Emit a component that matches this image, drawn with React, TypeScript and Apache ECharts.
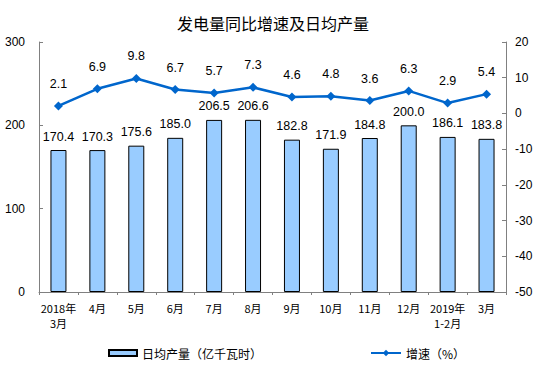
import React, { useEffect, useRef } from "react";
import * as echarts from "echarts";

const categories = ["2018年\n3月", "4月", "5月", "6月", "7月", "8月", "9月", "10月", "11月", "12月", "2019年\n1-2月", "3月"];
const dailyOutput = [170.4, 170.3, 175.6, 185.0, 206.5, 206.6, 182.8, 171.9, 184.8, 200.0, 186.1, 183.8];
const growth = [2.1, 6.9, 9.8, 6.7, 5.7, 7.3, 4.6, 4.8, 3.6, 6.3, 2.9, 5.4];
const titleText = "发电量同比增速及日均产量";
const barName = "日均产量（亿千瓦时）";
const lineName = "增速（%）";

export default function App() {
  const ref = useRef<HTMLDivElement>(null);
  useEffect(() => {
    if (!ref.current) return;
    const chart = echarts.init(ref.current, null, { renderer: "svg" });
    const axisText = { color: "#000", fontSize: 12, fontFamily: "Liberation Sans, Arial, sans-serif" };
    chart.setOption({
      animation: false,
      backgroundColor: "#fff",
      title: {
        text: titleText,
        left: 268,
        textAlign: "center",
        top: 10,
        textStyle: { fontSize: 16, fontWeight: "normal", color: "#000", fontFamily: "Noto Sans CJK SC, sans-serif" },
      },
      grid: { left: 39, right: 53, top: 42, bottom: 93 },
      legend: [
        {
          data: [{ name: barName, icon: "rect" }],
          left: 103,
          top: 342,
          itemWidth: 28,
          itemHeight: 6,
          itemGap: 4,
          textStyle: { fontSize: 12, color: "#000", fontFamily: "Noto Sans CJK SC, sans-serif" },
        },
        {
          data: [{ name: lineName }],
          left: 365,
          top: 342,
          itemWidth: 30,
          itemHeight: 8,
          textStyle: { fontSize: 12, color: "#000", fontFamily: "Noto Sans CJK SC, sans-serif" },
        },
      ],
      xAxis: {
        type: "category",
        data: categories,
        boundaryGap: true,
        axisLine: { lineStyle: { color: "#808080", width: 1 } },
        axisTick: { show: true, length: 3, inside: false, lineStyle: { color: "#808080" } },
        axisLabel: {
          interval: 0,
          color: "#000",
          fontSize: 11,
          lineHeight: 15,
          margin: 8,
          fontFamily: "Noto Sans CJK SC, sans-serif",
        },
      },
      yAxis: [
        {
          type: "value",
          min: 0,
          max: 300,
          interval: 100,
          position: "left",
          splitLine: { show: false },
          axisLine: { show: true, lineStyle: { color: "#808080" } },
          axisTick: { show: true, inside: true, length: 4, lineStyle: { color: "#808080" } },
          axisLabel: { ...axisText, margin: 14 },
        },
        {
          type: "value",
          min: -50,
          max: 20,
          interval: 10,
          position: "right",
          splitLine: { show: false },
          axisLine: { show: true, lineStyle: { color: "#808080" } },
          axisTick: { show: true, inside: true, length: 4, lineStyle: { color: "#808080" } },
          axisLabel: { ...axisText, margin: 9 },
        },
      ],
      series: [
        {
          name: barName,
          type: "bar",
          data: dailyOutput,
          yAxisIndex: 0,
          barWidth: 16,
          itemStyle: { color: "#99CCFF", borderColor: "#000", borderWidth: 1 },
          label: {
            show: true,
            position: "top",
            distance: 7,
            color: "#000",
            fontSize: 12.5,
            fontFamily: "Liberation Sans, Arial, sans-serif",
            formatter: (p: any) => Number(p.value).toFixed(1),
          },
        },
        {
          name: lineName,
          type: "line",
          data: growth,
          yAxisIndex: 1,
          symbol: "diamond",
          symbolSize: 9,
          lineStyle: { color: "#0066CC", width: 2.5 },
          itemStyle: { color: "#0066CC" },
          label: {
            show: true,
            position: "top",
            distance: 11,
            color: "#000",
            fontSize: 12.5,
            fontFamily: "Liberation Sans, Arial, sans-serif",
            formatter: (p: any) => Number(p.value).toFixed(1),
          },
          z: 5,
        },
      ],
    });
    return () => chart.dispose();
  }, []);
  return <div ref={ref} style={{ width: 559, height: 385, position: "absolute", left: 0, top: 0 }} />;
}
